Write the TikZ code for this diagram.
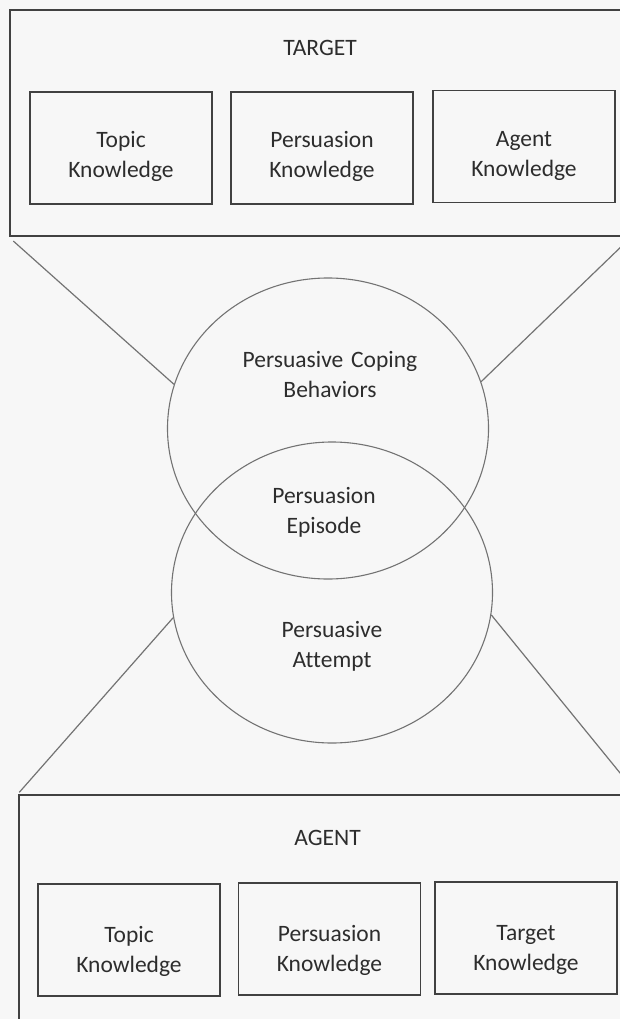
\documentclass[tikz,border=0pt]{standalone}
\usepackage{fontspec}
\setmainfont{Carlito}[Ligatures=NoCommon]
\usetikzlibrary{shapes.geometric}
\definecolor{paper}{RGB}{247,247,247}
\definecolor{ink}{RGB}{45,45,45}
\definecolor{edge}{RGB}{65,65,65}
\definecolor{rim}{RGB}{115,115,115}

\begin{document}
\begin{tikzpicture}[x=1pt,y=-1pt,
  frame/.style={draw=edge, line width=2.2pt, inner sep=0pt},
  kbox/.style={draw=edge, line width=1.7pt, minimum width=182pt, minimum height=112pt, inner sep=0pt},
  ring/.style={draw=rim, line width=1.1pt, ellipse, inner sep=0pt, minimum width=321pt, minimum height=301pt},
  tie/.style={draw=rim, line width=1.2pt},
  lbl/.style={text=ink, font=\fontsize{23.5}{30}\selectfont, text width=240pt, align=center, inner sep=0pt, anchor=base},
]
% page and visible area
\fill[paper] (0,0) rectangle (620,1019);
\clip (0,0) rectangle (620,1019);

% target frame with its three knowledge boxes
\node[frame, minimum width=620pt, minimum height=226pt] (target) at (320,123) {};
\node[lbl] (targetlbl) at (320,56) {TARGET};
\node[kbox] (t1) at (121,148) {};
\node[kbox] (t2) at (322,148) {};
\node[kbox] (t3) at (524,146.5) {};
\node[lbl] (t1lbl) at (t1.center) {Topic\\Knowledge};
\node[lbl] (t2lbl) at (t2.center) {Persuasion\\Knowledge};
\node[lbl] (t3lbl) at (t3.center) {Agent\\Knowledge};

% agent frame with its three knowledge boxes
\node[frame, minimum width=617pt, minimum height=260pt] (agent) at (327.5,925) {};
\node[lbl] (agentlbl) at (327.5,845) {AGENT};
\node[kbox] (b1) at (129,940) {};
\node[kbox] (b2) at (329.5,939) {};
\node[kbox] (b3) at (526,938) {};
\node[lbl] (b1lbl) at ([yshift=-2pt]b1.center) {Topic\\Knowledge};
\node[lbl] (b2lbl) at ([yshift=-2pt]b2.center) {Persuasion\\Knowledge};
\node[lbl] (b3lbl) at ([yshift=-2pt]b3.center) {Target\\Knowledge};

% the two overlapping circles of the episode
\node[ring] (coping) at (328,428.5) {};
\node[ring] (attempt) at (332,592.5) {};
\node[lbl] (copinglbl) at (330,367) {Persuasive Coping\\Behaviors};
\node[lbl] (episodelbl) at (324,503) {Persuasion\\Episode};
\node[lbl] (attemptlbl) at (332,637) {Persuasive\\Attempt};

% connectors between frames and circles
\draw[tie, shorten <=6pt] (target.south west) -- (coping.164.8);
\draw[tie] (target.south east) -- (coping.17);
\draw[tie, shorten >=2pt] (attempt.189.2) -- (agent.north west);
\draw[tie] (attempt.352) -- (agent.north east);
\end{tikzpicture}
\end{document}
